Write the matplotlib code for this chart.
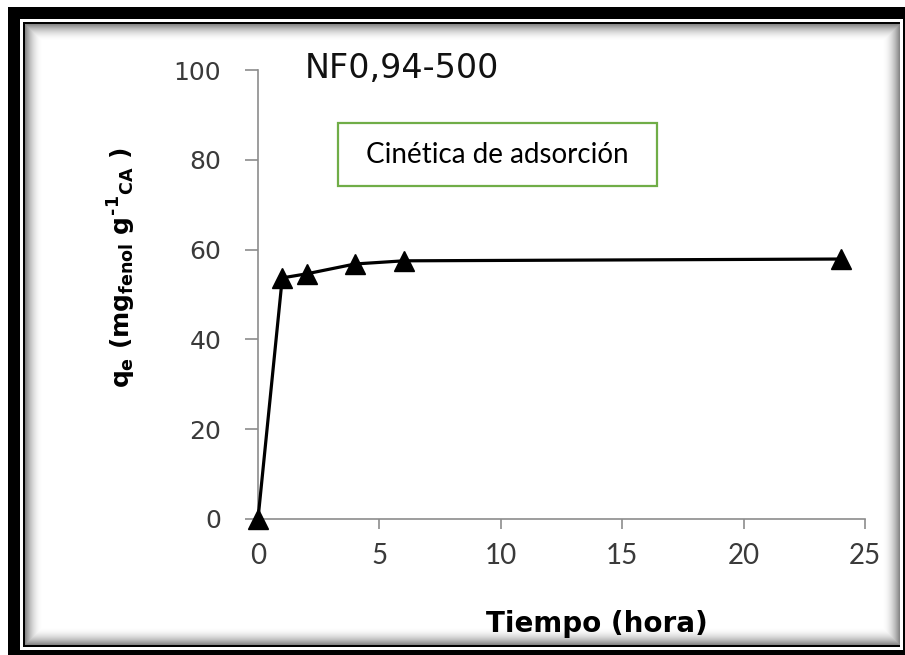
import matplotlib
matplotlib.use("Agg")
import matplotlib.pyplot as plt
import numpy as np
from matplotlib.patches import Rectangle

# kinetic data
tiempo = [0, 1, 2, 4, 6, 24]
qe = [0, 53.7, 54.6, 56.8, 57.5, 57.9]
x_ticks = [0, 5, 10, 15, 20, 25]
y_ticks = [0, 20, 40, 60, 80, 100]

plt.rcParams['mathtext.fontset'] = 'custom'
plt.rcParams['mathtext.rm'] = 'DejaVu Sans:bold'
plt.rcParams['mathtext.it'] = 'DejaVu Sans:bold'
plt.rcParams['mathtext.bf'] = 'DejaVu Sans:bold'

W, H = 905, 655
fig = plt.figure(figsize=(W / 100, H / 100), dpi=100)

# background: double black frame and soft inner shadow
bg = fig.add_axes([0, 0, 1, 1])
bg.add_patch(Rectangle((8, 7), W - 8, H - 7, facecolor='black', edgecolor='none', zorder=1))
bg.add_patch(Rectangle((20, 19), 883, 631, facecolor='white', edgecolor='none', zorder=1))
bg.add_patch(Rectangle((23, 22), 877, 625, facecolor='black', edgecolor='none', zorder=1))

x0, x1, y0, y1 = 25, 899, 24, 645
yy, xx = np.mgrid[y0:y1, x0:x1] + 0.5
dist = np.minimum.reduce([xx - x0, x1 - xx, yy - y0, y1 - yy])
d = np.clip(1 - dist / 18, 0, 1)
shade = 1 - 0.5 * d ** 2
bg.imshow(shade, cmap='gray', vmin=0, vmax=1, extent=(x0, x1, y1, y0),
          interpolation='bilinear', aspect='auto', zorder=2)
bg.set_xlim(0, W)
bg.set_ylim(H, 0)
bg.axis('off')

# main plot
ax = fig.add_axes([258 / W, 1 - 519 / H, (865 - 258) / W, (519 - 70) / H])
ax.patch.set_visible(False)
ax.plot(tiempo, qe, color='black', lw=2.3, marker='^', markersize=14,
        clip_on=False, zorder=5)
ax.set_xlim(0, 25)
ax.set_ylim(0, 100)
ax.set_xticks(x_ticks, labels=[str(v) for v in x_ticks], fontfamily='Lato')
ax.set_yticks(y_ticks, labels=[str(v) for v in y_ticks], fontfamily='DejaVu Sans')

for side in ['top', 'right']:
    ax.spines[side].set_visible(False)
for side in ['left', 'bottom']:
    ax.spines[side].set_color('#8c8c8c')
    ax.spines[side].set_linewidth(1.2)

ax.tick_params(axis='y', direction='out', length=9.5, width=1.2, color='#8c8c8c',
               pad=17, labelsize=18, labelcolor='#3a3a3a')
ax.tick_params(axis='x', direction='out', length=7.5, width=1.2, color='#8c8c8c',
               pad=10, labelsize=20, labelcolor='#3a3a3a')

fig.text(305 / W, 1 - 68 / H, 'NF0,94-500', fontsize=24, family='DejaVu Sans',
         color='#111111', ha='left', va='center')

fig.text(122 / W, 1 - 268 / H, r'$q_e\ (mg_{fenol}\ g^{\text{-}1}{}_{CA}\ )$',
         fontsize=18, rotation=90, ha='center', va='center')

fig.text(597 / W, 1 - 624 / H, 'Tiempo (hora)', fontsize=20, fontweight='bold',
         family='DejaVu Sans', ha='center', va='center')

# annotation box
bg.add_patch(Rectangle((338, 123), 319, 63, facecolor='white',
                       edgecolor='#70ad47', linewidth=1.6, zorder=3))
bg.text(497, 155, 'Cinética de adsorción', fontsize=20, family='Lato',
        ha='center', va='center', zorder=4)

fig.savefig('out.png', dpi=100)
